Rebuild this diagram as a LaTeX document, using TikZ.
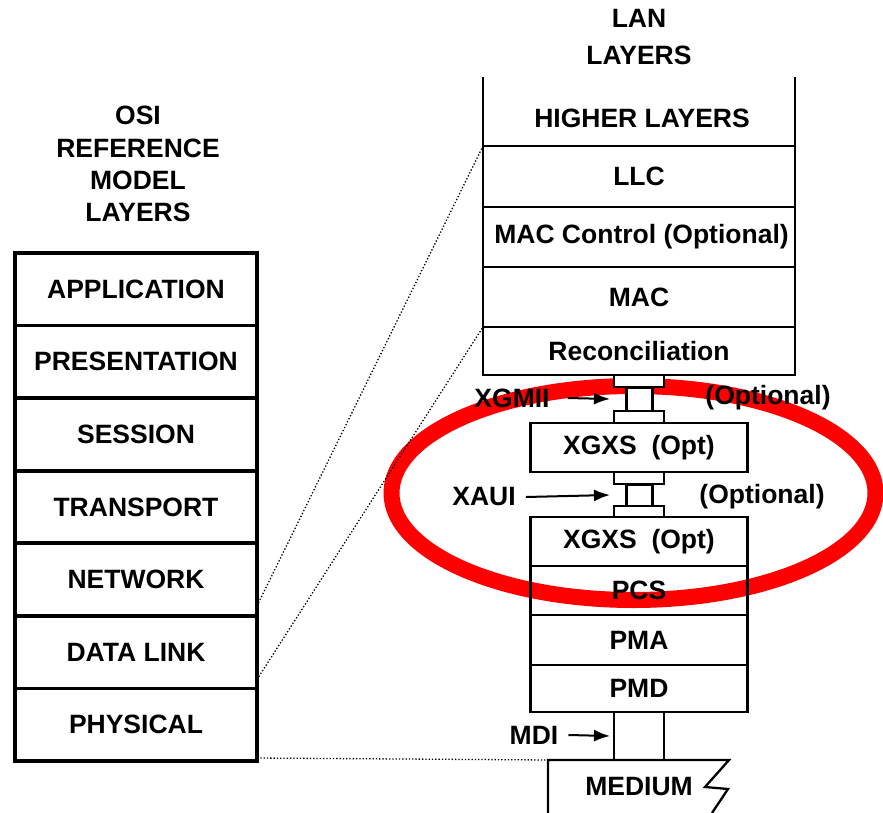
\documentclass[tikz,border=0pt]{standalone}
\usepackage{fontspec}
\setmainfont{Liberation Sans}
\usetikzlibrary{arrows.meta, positioning, calc}

\begin{document}
\begin{tikzpicture}[x=1pt, y=-1pt,
  txt/.style={font=\fontsize{26.5}{30}\selectfont\bfseries},
  osi/.style={txt, draw, line width=3.6pt, minimum width=242pt, minimum height=72.57pt, inner sep=0pt, outer sep=0pt},
  lan/.style={txt, draw, line width=2.3pt, minimum width=312pt, inner sep=0pt, outer sep=0pt},
  phy/.style={txt, draw, line width=2.3pt, minimum width=217pt, minimum height=49pt, inner sep=0pt, outer sep=0pt},
  flange/.style={draw, fill=white, line width=2.8pt, minimum width=50pt, minimum height=12pt, inner sep=0pt, outer sep=0pt},
  mid/.style={draw, fill=white, line width=3pt, minimum width=26pt, minimum height=24pt, inner sep=0pt, outer sep=0pt},
  lab/.style={txt, inner sep=0pt},
  arr/.style={-{Latex[length=16pt,width=12pt]}, line width=2pt},
  link/.style={dotted, line width=1.3pt},
  node distance=0pt]
  \useasboundingbox (0,0) rectangle (883,813);
  % the marked part
  \draw[red, line width=16pt] (633.5,493) ellipse [x radius=242pt, y radius=107pt];

  % OSI side
  \node[lab, align=center, font=\fontsize{26.5}{32.2}\selectfont\bfseries] (osihead) at (138,164) {OSI\\REFERENCE\\MODEL\\LAYERS};
  \node[osi] (app) at (136,289.3) {APPLICATION};
  \node[osi, below=of app]  (pres) {PRESENTATION};
  \node[osi, below=of pres] (ses)  {SESSION};
  \node[osi, below=of ses]  (tra)  {TRANSPORT};
  \node[osi, below=of tra]  (net)  {NETWORK};
  \node[osi, below=of net]  (dl)   {DATA LINK};
  \node[osi, below=of dl]   (phys) {PHYSICAL};

  % LAN side
  \node[lab, align=center, font=\fontsize{26.5}{37}\selectfont\bfseries] (lanhead) at (639,37) {LAN\\LAYERS};
  \node[lab] (hl) at (642,118) {HIGHER LAYERS};
  \node[lan, minimum height=61pt] (llc) at (639,176.5) {LLC};
  \node[lan, minimum height=60pt, below=of llc]  (macc) {\hspace*{5pt}MAC Control (Optional)};
  \node[lan, minimum height=60pt, below=of macc] (mac)  {MAC};
  \node[lan, minimum height=48pt, below=of mac]  (rec)  {Reconciliation};
  \draw[line width=2.3pt] (llc.north west) -- ++(0,-69);
  \draw[line width=2.3pt] (llc.north east) -- ++(0,-69);

  \node[phy, below=48pt of rec]    (xg1) {XGXS\ \ (Opt)};
  \node[phy, below=45pt of xg1]    (xg2) {XGXS\ \ (Opt)};
  \node[phy, below=of xg2]         (pcs) {PCS};
  \node[phy, minimum height=50pt, below=of pcs] (pma) {PMA};
  \node[phy, minimum height=47pt, below=of pma] (pmd) {PMD};

  % interfaces
  \node[flange, below=of rec] (gf1) {};
  \node[mid, below=of gf1]    (gm)  {};
  \node[flange, below=of gm]  (gf2) {};
  \node[flange, below=of xg1] (af1) {};
  \node[mid, minimum height=22pt, below=of af1] (am) {};
  \node[flange, minimum height=11pt, below=of am] (af2) {};
  \node[draw, line width=2.8pt, minimum width=50pt, minimum height=48pt, inner sep=0pt, outer sep=0pt, below=of pmd] (mdi) {};

  \node[lab] (xgmii) at (512,398) {XGMII};
  \node[lab] (gopt)  at (768,398) {(Optional)};
  \node[lab] (xaui)  at (484,497) {XAUI};
  \node[lab] (aopt)  at (762,497) {(Optional)};
  \node[lab] (mdil)  at (534,735) {MDI};
  \draw[arr] ([xshift=18pt]xgmii.east) -- ([xshift=-16pt]gm.west);
  \draw[arr] ([xshift=10pt]xaui.east) -- ([xshift=-16pt]am.west);
  \draw[arr] ([xshift=10pt]mdil.east) -- ([xshift=-4pt]mdi.west);

  % medium
  \coordinate (medc) at (548,760);
  \node[lab] (med) at (639,787) {MEDIUM};
  \draw[line width=2.3pt] (548,813) -- (medc) -- (729,760) -- (705,787) -- (728,789) -- (712,813);

  % mapping
  \draw[link] ([yshift=10pt]net.south east) -- (llc.north west);
  \draw[link] ([yshift=9pt]dl.south east) -- (rec.north west);
  \draw[link] ([yshift=3pt]phys.south east) -- (medc);
\end{tikzpicture}
\end{document}
